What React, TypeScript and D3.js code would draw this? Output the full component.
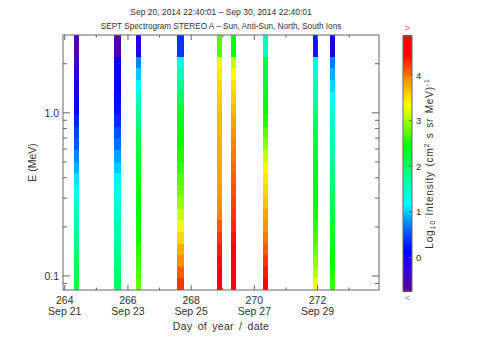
import React from 'react';
import * as d3 from 'd3';

// time range of the plot, day of year (264.0 = Sep 21 00:00)
const dayStart = 263.9445;
const dayEnd = 273.9445;

const xTickDays = [264, 266, 268, 270, 272];
const xTickDates = ['Sep 21', 'Sep 23', 'Sep 25', 'Sep 27', 'Sep 29'];
const xMinorDays = [265, 267, 269, 271, 273];

const yMajor = [0.1, 1.0];
const yMajorLabels = ['0.1', '1.0'];
const yMinor = [0.09, 0.2, 0.3, 0.4, 0.5, 0.6, 0.7, 0.8, 0.9, 2.0];

const cbTicks = [0, 1, 2, 3, 4];

// energy channel edges (MeV), high to low
const energyEdges = [6.5, 2.2, 1.87, 1.58, 1.34, 1.14, 0.967, 0.82, 0.696, 0.59, 0.501,
  0.425, 0.36, 0.306, 0.259, 0.22, 0.187, 0.158, 0.134, 0.114, 0.097, 0.08];

// time bins where data exist
const binStart = [264.29, 265.56, 266.24, 267.54, 268.83, 269.26, 270.26, 271.85, 272.39];
const binEnd = [264.45, 265.77, 266.40, 267.77, 268.99, 269.41, 270.42, 272.00, 272.54];

// log10 intensity per channel (top channel first) for each time bin
const logIntensity = [
  [-0.6, -0.35, -0.2, -0.05, 0.05, 0.15, 0.3, 0.45, 0.55, 0.75, 0.9, 1.1, 1.3, 1.45, 1.6, 1.7, 1.8, 1.9, 2.0, 2.05, 2.15],
  [-0.6, 0.0, 0.05, 0.1, 0.2, 0.25, 0.35, 0.5, 0.65, 0.85, 1.0, 1.15, 1.3, 1.4, 1.5, 1.6, 1.65, 1.75, 1.85, 1.95, 2.0],
  [-0.05, 0.75, 1.0, 1.25, 1.5, 1.7, 1.85, 2.0, 2.1, 2.2, 2.25, 2.3, 2.35, 2.35, 2.4, 2.45, 2.5, 2.6, 2.65, 2.7, 2.8],
  [0.4, 1.3, 1.6, 1.8, 2.0, 2.2, 2.3, 2.35, 2.45, 2.55, 2.65, 2.75, 2.85, 3.0, 3.15, 3.3, 3.55, 3.75, 3.9, 4.1, 4.25],
  [2.75, 3.3, 3.45, 3.55, 3.6, 3.65, 3.7, 3.7, 3.75, 3.75, 3.8, 3.8, 3.85, 3.9, 3.95, 4.1, 4.25, 4.35, 4.4, 4.45, 4.5],
  [2.4, 3.15, 3.35, 3.5, 3.6, 3.7, 3.8, 3.9, 3.95, 4.0, 4.05, 4.1, 4.15, 4.2, 4.25, 4.3, 4.4, 4.5, 4.55, 4.6, 4.6],
  [1.55, 2.1, 2.2, 2.25, 2.35, 2.45, 2.55, 2.75, 2.95, 3.15, 3.3, 3.45, 3.55, 3.65, 3.8, 3.9, 4.0, 4.1, 4.25, 4.35, 4.45],
  [0.3, 1.3, 1.45, 1.6, 1.7, 1.85, 2.0, 2.1, 2.2, 2.25, 2.3, 2.35, 2.4, 2.45, 2.5, 2.6, 2.7, 2.8, 2.95, 3.1, 3.3],
  [-0.05, 0.7, 0.9, 1.05, 1.2, 1.35, 1.45, 1.55, 1.65, 1.75, 1.85, 1.9, 1.95, 2.05, 2.1, 2.2, 2.25, 2.35, 2.45, 2.55, 2.65],
];

const colorStopValues = [-0.74, -0.3, 0.16, 0.7, 1.19, 1.8, 2.44, 3.35, 3.9, 4.45, 4.86];
const colorStops = ['#5a0099', '#3a00d8', '#0000ff', '#0078ff', '#00ffff', '#00ff90', '#00ff00',
  '#ffff00', '#ff9000', '#ff0000', '#ff0000'];

const plot = { x0: 63, x1: 379, y0: 35, y1: 290 };
const cb = { x0: 403, x1: 412, y0: 36, y1: 291 };
const font = '"Liberation Sans", Arial, sans-serif';
const textColor = '#333';
const axisColor = '#666';

const App = () => {
  const x = d3.scaleLinear().domain([dayStart, dayEnd]).range([plot.x0, plot.x1]);
  const y = d3.scaleLog().domain([0.082, 3.0]).range([plot.y1, plot.y0]);
  const color = d3.scaleLinear<string>().domain(colorStopValues).range(colorStops)
    .interpolate(d3.interpolateRgb).clamp(true);
  const cbScale = d3.scaleLinear().domain([-0.74, 4.86]).range([cb.y1, cb.y0]);
  const cbSteps = d3.range(0, 256).map((i) => -0.74 + (i + 0.5) * 5.6 / 256);

  return (
    <svg width={480} height={360} style={{ position: 'absolute', left: 0, top: 0, background: '#fff' }}>
      <defs>
        <clipPath id="plotClip">
          <rect x={plot.x0} y={plot.y0} width={plot.x1 - plot.x0} height={plot.y1 - plot.y0} />
        </clipPath>
      </defs>

      <text x={221} y={15} textAnchor="middle" fontFamily={font} fontSize={8.5} fill={textColor}>
        Sep 20, 2014 22:40:01 – Sep 30, 2014 22:40:01
      </text>
      <text x={221} y={29} textAnchor="middle" fontFamily={font} fontSize={8.2} fill={textColor}>
        SEPT Spectrogram STEREO A – Sun, Anti-Sun, North, South Ions
      </text>

      <g clipPath="url(#plotClip)" shapeRendering="crispEdges">
        {logIntensity.map((row, i) =>
          row.map((v, c) => {
            const yt = y(energyEdges[c]);
            const yb = y(energyEdges[c + 1]);
            return (
              <rect
                key={`${i}-${c}`}
                x={x(binStart[i])}
                width={x(binEnd[i]) - x(binStart[i])}
                y={yt}
                height={yb - yt}
                fill={color(v)}
              />
            );
          })
        )}
      </g>

      <rect x={plot.x0} y={plot.y0} width={plot.x1 - plot.x0} height={plot.y1 - plot.y0}
        fill="none" stroke={axisColor} strokeWidth={1} />

      {/* x ticks, bottom and top */}
      {xTickDays.map((d) => (
        <g key={d}>
          <line x1={x(d)} x2={x(d)} y1={plot.y1} y2={plot.y1 - 5} stroke={axisColor} />
          <line x1={x(d)} x2={x(d)} y1={plot.y0} y2={plot.y0 + 5} stroke={axisColor} />
        </g>
      ))}
      {xMinorDays.map((d) => (
        <g key={d}>
          <line x1={x(d)} x2={x(d)} y1={plot.y1} y2={plot.y1 - 2.5} stroke={axisColor} />
          <line x1={x(d)} x2={x(d)} y1={plot.y0} y2={plot.y0 + 2.5} stroke={axisColor} />
        </g>
      ))}
      {xTickDays.map((d, i) => (
        <g key={`l${d}`} fontFamily={font} fontSize={10.5} fill={textColor} textAnchor="middle">
          <text x={x(d)} y={304}>{d}</text>
          <text x={x(d)} y={315}>{xTickDates[i]}</text>
        </g>
      ))}
      <text x={221} y={330} textAnchor="middle" fontFamily={font} fontSize={10.5} fill={textColor}
        letterSpacing={0.3} wordSpacing={2}>
        Day of year / date
      </text>

      {/* y ticks, left and right */}
      {yMajor.map((e, i) => (
        <g key={e}>
          <line x1={plot.x0} x2={plot.x0 + 7} y1={y(e)} y2={y(e)} stroke={axisColor} />
          <line x1={plot.x1} x2={plot.x1 - 7} y1={y(e)} y2={y(e)} stroke={axisColor} />
          <text x={59} y={y(e) + 3.8} textAnchor="end" fontFamily={font} fontSize={10.5} fill={textColor}>
            {yMajorLabels[i]}
          </text>
        </g>
      ))}
      {yMinor.map((e) => (
        <g key={e}>
          <line x1={plot.x0} x2={plot.x0 + 4} y1={y(e)} y2={y(e)} stroke={axisColor} />
          <line x1={plot.x1} x2={plot.x1 - 4} y1={y(e)} y2={y(e)} stroke={axisColor} />
        </g>
      ))}
      <text transform={`translate(36, ${(plot.y0 + plot.y1) / 2}) rotate(-90)`} textAnchor="middle"
        fontFamily={font} fontSize={10.5} fill={textColor}>
        E (MeV)
      </text>

      {/* colour bar */}
      <g shapeRendering="crispEdges">
        {cbSteps.map((v, i) => (
          <rect key={i} x={cb.x0} width={cb.x1 - cb.x0} y={cbScale(v) - 1} height={2} fill={color(v)} />
        ))}
      </g>
      <rect x={cb.x0} y={cb.y0} width={cb.x1 - cb.x0} height={cb.y1 - cb.y0} fill="none" stroke={axisColor} />
      {cbTicks.map((t) => (
        <g key={t}>
          <line x1={cb.x1} x2={cb.x1 - 3} y1={cbScale(t)} y2={cbScale(t)} stroke={axisColor} />
          <text x={416} y={cbScale(t) + 3.5} fontFamily={font} fontSize={9.5} fill={textColor}>{t}</text>
        </g>
      ))}
      <text transform={`translate(433, ${(cb.y0 + cb.y1) / 2}) rotate(-90)`} textAnchor="middle"
        fontFamily={font} fontSize={10} fill={textColor} letterSpacing={0.8} wordSpacing={1}>
        Log<tspan fontSize={7} dy={2}>10</tspan><tspan dy={-2}> Intensity (cm</tspan>
        <tspan fontSize={7} dy={-4}>2</tspan><tspan dy={4}> s  sr  MeV)</tspan>
        <tspan fontSize={7} dy={-4}>-1</tspan>
      </text>
      <text x={cb.x0 + 4.5} y={31} textAnchor="middle" fontFamily={font} fontSize={9} fill="#ff5050">&gt;</text>
      <text x={cb.x0 + 4.5} y={301} textAnchor="middle" fontFamily={font} fontSize={9} fill="#9a70e0">&lt;</text>
    </svg>
  );
};

export default App;
